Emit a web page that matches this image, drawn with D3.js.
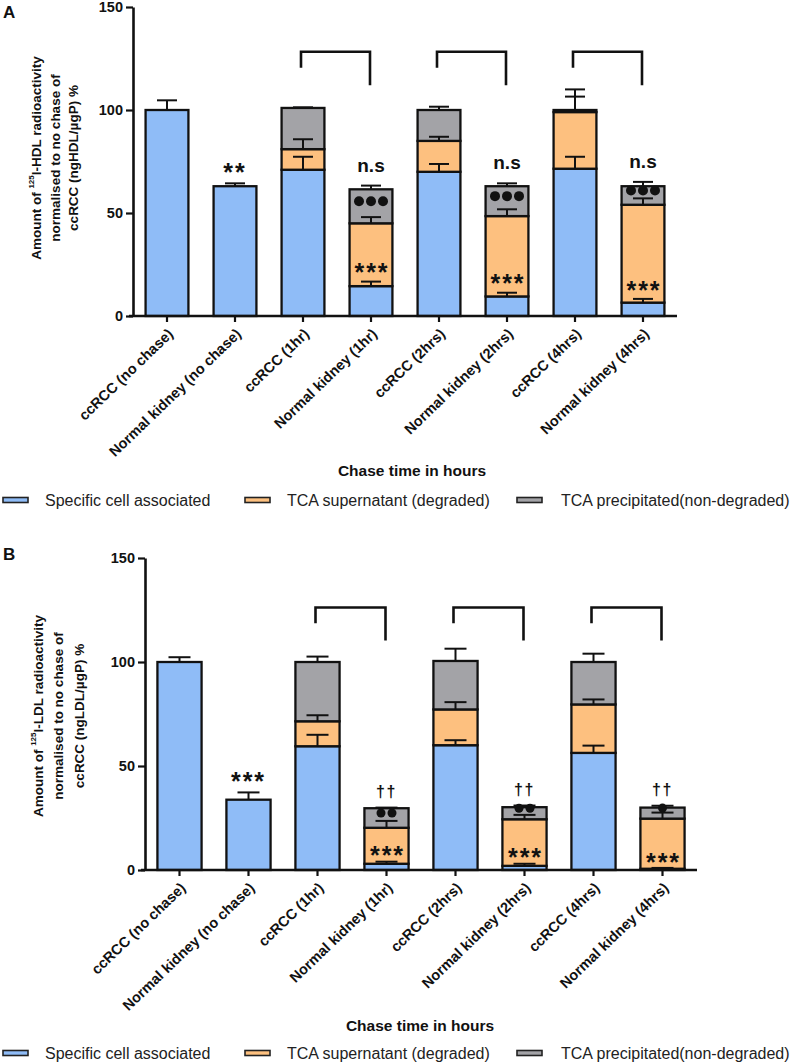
<!DOCTYPE html>
<html><head><meta charset="utf-8">
<script src="https://cdn.jsdelivr.net/npm/d3@7"></script>
<style>
body{margin:0;background:#fff;}
svg{display:block;font-family:"Liberation Sans",Arial,sans-serif;}
</style></head><body>
<svg id="chart" width="794" height="1064"></svg>
<script>
// ---------- data ----------
const categories = ["ccRCC (no chase)", "Normal kidney (no chase)", "ccRCC (1hr)", "Normal kidney (1hr)",
  "ccRCC (2hrs)", "Normal kidney (2hrs)", "ccRCC (4hrs)", "Normal kidney (4hrs)"];
const seriesNames = ["Specific cell associated", "TCA supernatant (degraded)", "TCA precipitated(non-degraded)"];
const yTicks = [0, 50, 100, 150];
const xTitle = "Chase time in hours";

// Panel A (125I-HDL)
const hdlCell = [100, 63, 71, 14.5, 70, 9.5, 71.5, 6.5];
const hdlSupernatant = [0, 0, 10, 30.5, 15, 39, 27.5, 47.5];
const hdlPrecipitated = [0, 0, 20, 16.5, 15, 14.5, 1, 9];
const hdlCellErr = [4.7, 1.4, 6.3, 2.2, 3.8, 1.8, 5.8, 1.8];
const hdlSupernatantErr = [0, 0, 4.8, 3, 2, 3.3, 11, 3.1];
const hdlPrecipitatedErr = [0, 0, 0.3, 1.8, 1.6, 1.4, 6.5, 2.1];
const hdlAbove = ["", "**", "", "n.s", "", "n.s", "", "n.s"];
const hdlInside = ["", "", "", "***", "", "***", "", "***"];
const hdlDots = [0, 0, 0, 3, 0, 3, 0, 3];
const hdlBrackets = [[2, 3], [4, 5], [6, 7]];
const hdlBracketLevels = [128.3, 120.5, 112]; // top, left end, right end

// Panel B (125I-LDL)
const ldlCell = [100, 33.8, 59.5, 3, 60, 2, 56.3, 0.6];
const ldlSupernatant = [0, 0, 12, 17.3, 17.2, 22.4, 23.3, 24.1];
const ldlPrecipitated = [0, 0, 28.5, 9.4, 23.3, 5.8, 20.4, 5.3];
const ldlCellErr = [2.3, 3.5, 5.5, 1, 2.4, 1, 3.5, 0.4];
const ldlSupernatantErr = [0, 0, 2.9, 3.3, 3.5, 2.1, 2.4, 2.9];
const ldlPrecipitatedErr = [0, 0, 2.6, 0.3, 5.9, 0.8, 4, 0.9];
const ldlAbove = ["", "***", "", "††", "", "††", "", "††"];
const ldlInside = ["", "", "", "***", "", "***", "", "***"];
const ldlDots = [0, 0, 0, 2, 0, 2, 0, 1];
const ldlBrackets = [[2, 3], [4, 5], [6, 7]];
const ldlBracketLevels = [126.2, 118.6, 110.3];

// ---------- drawing ----------
const colors = ["#8fbcf7", "#fdc07f", "#a3a3a7"];
const ink = "#111";
const svg = d3.select("#chart");

function drawPanel(cfg) {
  const g = svg.append("g");
  const x = d3.scaleBand().domain(categories).range(cfg.xRange).padding(0);
  const y = d3.scaleLinear().domain([0, 150]).range(cfg.yRange);
  const bw = x.bandwidth() * cfg.barFrac;
  const cx = c => x(c) + x.bandwidth() / 2;

  const table = categories.map((c, i) => ({cat: c, i, cell: cfg.cell[i], sup: cfg.sup[i], pre: cfg.pre[i]}));
  const keys = ["cell", "sup", "pre"];
  const stacked = d3.stack().keys(keys)(table);
  const errs = [cfg.cellErr, cfg.supErr, cfg.preErr];

  // bars
  stacked.forEach((layer, k) => {
    g.append("g").selectAll("rect").data(layer.filter(d => d[1] - d[0] > 0)).join("rect")
      .attr("x", d => cx(d.data.cat) - bw / 2).attr("width", bw)
      .attr("y", d => y(d[1])).attr("height", d => y(d[0]) - y(d[1]))
      .attr("fill", colors[k]).attr("stroke", ink).attr("stroke-width", 2.3);
  });

  // error bars
  stacked.forEach((layer, k) => {
    const eg = g.append("g").attr("stroke", ink).attr("stroke-width", 2).attr("fill", "none");
    layer.forEach(d => {
      const e = errs[k][d.data.i];
      if (!(d[1] - d[0] > 0) || !(e > 0)) return;
      const xc = cx(d.data.cat);
      eg.append("line").attr("x1", xc).attr("x2", xc).attr("y1", y(d[1])).attr("y2", y(d[1] + e));
      eg.append("line").attr("x1", xc - cfg.cap / 2).attr("x2", xc + cfg.cap / 2)
        .attr("y1", y(d[1] + e)).attr("y2", y(d[1] + e));
    });
  });

  // annotations
  table.forEach((d, i) => {
    const xc = cx(d.cat);
    const topE = Math.max(...[0, 1, 2].map(k => (stacked[k][i][1] - stacked[k][i][0] > 0 ? stacked[k][i][1] + errs[k][i] : 0)));
    const yTop = y(topE);
    const a = cfg.above[i];
    if (a) {
      if (a.startsWith("*")) {
        g.append("text").attr("x", xc).attr("y", yTop - 16 + 13.7).attr("text-anchor", "middle")
          .attr("font-size", 25).attr("font-weight", "bold").attr("letter-spacing", 2).attr("fill", ink).text(a);
      } else if (a.startsWith("†")) {
        g.append("text").attr("x", xc).attr("y", yTop - 11).attr("text-anchor", "middle")
          .attr("font-size", 16).attr("font-weight", "bold").attr("letter-spacing", 1.5).attr("fill", ink).text(a);
      } else {
        g.append("text").attr("x", xc).attr("y", yTop - 14).attr("text-anchor", "middle")
          .attr("font-size", 19).attr("font-weight", "bold").attr("fill", ink).text(a);
      }
    }
    const ins = cfg.inside[i];
    if (ins) {
      const yc = y(stacked[0][i][1] + errs[0][i]) - cfg.insideGap;
      g.append("text").attr("x", xc + 1).attr("y", yc + 13.7).attr("text-anchor", "middle")
        .attr("font-size", 25).attr("font-weight", "bold").attr("letter-spacing", 2).attr("fill", ink).text(ins);
    }
    const n = cfg.dots[i];
    if (n > 0) {
      const seg = stacked[2][i];
      const ym = (y(seg[0]) + y(seg[1])) / 2 - 5;
      d3.range(n).forEach(j => {
        g.append("circle").attr("cx", xc + (j - (n - 1) / 2) * cfg.dotGap).attr("cy", ym)
          .attr("r", cfg.dotR).attr("fill", ink);
      });
    }
  });

  // brackets
  cfg.brackets.forEach(([a, b]) => {
    const xl = cx(categories[a]) - 2, xr = cx(categories[b]) - 1;
    const [t, l, r] = cfg.bracketLevels;
    g.append("path").attr("d", `M${xl},${y(l)}V${y(t)}H${xr}V${y(r)}`)
      .attr("fill", "none").attr("stroke", ink).attr("stroke-width", 2.6);
  });

  // axes
  const yAxis = g.append("g").attr("transform", `translate(${cfg.xRange[0]},0)`)
    .call(d3.axisLeft(y).tickValues(yTicks).tickSize(7).tickSizeOuter(0).tickPadding(3));
  yAxis.select(".domain").attr("stroke", ink).attr("stroke-width", 2.6);
  yAxis.selectAll(".tick line").attr("stroke", ink).attr("stroke-width", 2.2);
  yAxis.selectAll(".tick text").attr("font-size", 14.5).attr("font-weight", "bold")
    .attr("font-family", "Liberation Sans, Arial, sans-serif").attr("fill", ink);

  const xAxis = g.append("g").attr("transform", `translate(0,${cfg.yRange[0]})`)
    .call(d3.axisBottom(x).tickSize(6).tickSizeOuter(0));
  xAxis.select(".domain").attr("stroke", ink).attr("stroke-width", 2.6)
    .attr("d", `M${cfg.xRange[0] - 4},0H${cfg.xRange[1]}`);
  xAxis.selectAll(".tick line").attr("stroke", ink).attr("stroke-width", 2.2);
  xAxis.selectAll(".tick text")
    .attr("font-size", 14.5).attr("font-weight", "bold").attr("font-family", "Liberation Sans, Arial, sans-serif")
    .attr("fill", ink).attr("text-anchor", "end")
    .attr("x", 0).attr("y", 0).attr("dy", 0)
    .attr("transform", "translate(7,19) rotate(-44)");

  // y-axis title
  const yl = g.append("g").attr("font-size", 13.5).attr("font-weight", "bold").attr("fill", ink);
  cfg.yLabelX.forEach((lx, k) => {
    const t = yl.append("text").attr("text-anchor", "middle").attr("dominant-baseline", "central")
      .attr("transform", `translate(${lx},${cfg.yLabelCY}) rotate(-90)`);
    if (k === 0) {
      t.append("tspan").text("Amount of ");
      t.append("tspan").attr("font-size", 8).attr("dy", -5).text("125");
      t.append("tspan").attr("dy", 5).text(`I-${cfg.lip} radioactivity`);
    } else if (k === 1) {
      t.text("normalised to no chase of");
    } else {
      t.text(`ccRCC (ng${cfg.lip}/µgP) %`);
    }
  });

  // panel letter
  g.append("text").attr("x", 3).attr("y", cfg.letterY).attr("font-size", 17).attr("font-weight", "bold")
    .attr("fill", ink).text(cfg.letter);

  // x title
  g.append("text").attr("x", cfg.titleX).attr("y", cfg.titleY).attr("text-anchor", "middle")
    .attr("font-size", 15.5).attr("font-weight", "bold").attr("fill", ink).text(xTitle);

  // legend
  const sx = [3, 245, 517], tx = [45, 287, 561];
  seriesNames.forEach((nm, k) => {
    g.append("rect").attr("x", sx[k]).attr("y", cfg.legendY - 2.5).attr("width", 25).attr("height", 5)
      .attr("fill", colors[k]).attr("stroke", "#222").attr("stroke-width", 1.6);
    g.append("text").attr("x", tx[k]).attr("y", cfg.legendY + 5.5).attr("font-size", 16)
      .attr("fill", "#222").text(nm);
  });
}

drawPanel({
  letter: "A", letterY: 18, lip: "HDL",
  xRange: [133, 677], yRange: [316, 7], barFrac: 0.63, cap: 20,
  cell: hdlCell, sup: hdlSupernatant, pre: hdlPrecipitated,
  cellErr: hdlCellErr, supErr: hdlSupernatantErr, preErr: hdlPrecipitatedErr,
  above: hdlAbove, inside: hdlInside, dots: hdlDots, insideGap: 14, dotR: 5, dotGap: 12,
  brackets: hdlBrackets, bracketLevels: hdlBracketLevels,
  yLabelX: [36, 55, 73], yLabelCY: 158,
  titleX: 412, titleY: 476, legendY: 500
});

drawPanel({
  letter: "B", letterY: 560, lip: "LDL",
  xRange: [145, 697], yRange: [870, 558], barFrac: 0.64, cap: 22,
  cell: ldlCell, sup: ldlSupernatant, pre: ldlPrecipitated,
  cellErr: ldlCellErr, supErr: ldlSupernatantErr, preErr: ldlPrecipitatedErr,
  above: ldlAbove, inside: ldlInside, dots: ldlDots, insideGap: 11, dotR: 4.5, dotGap: 11,
  brackets: ldlBrackets, bracketLevels: ldlBracketLevels,
  yLabelX: [38, 58.5, 79], yLabelCY: 716,
  titleX: 420, titleY: 1031, legendY: 1053
});
</script>
</body></html>
